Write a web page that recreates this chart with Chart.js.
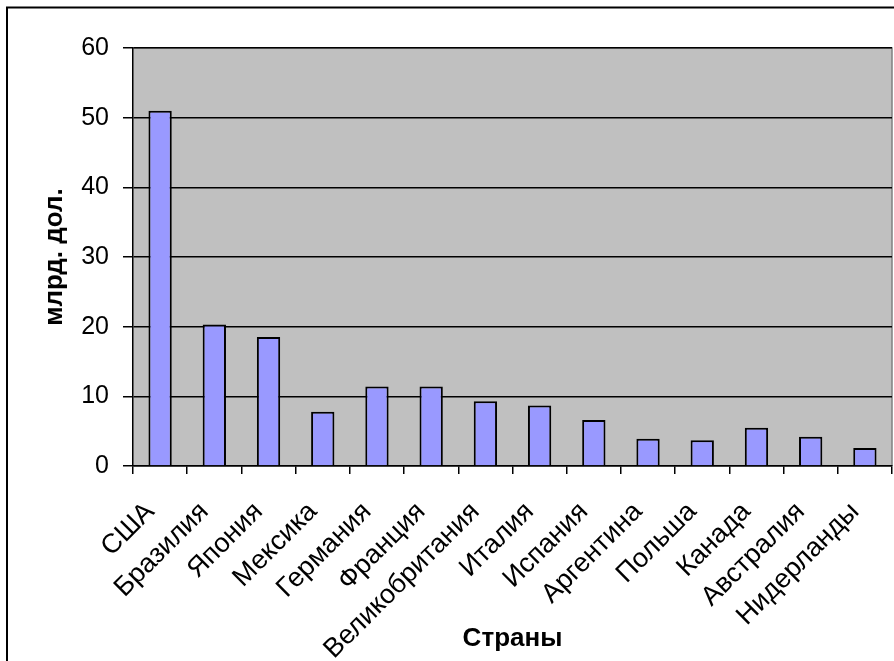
<!DOCTYPE html>
<html>
<head>
<meta charset="utf-8">
<script src="https://cdn.jsdelivr.net/npm/chart.js@4"></script>
<style>
  html, body { margin: 0; padding: 0; background: #fff; }
  #wrap { width: 894px; height: 661px; }
</style>
</head>
<body>
<div id="wrap"><canvas id="grafik" width="894" height="661"></canvas></div>
<script>
var strany = ["США", "Бразилия", "Япония", "Мексика", "Германия", "Франция",
  "Великобритания", "Италия", "Испания", "Аргентина", "Польша", "Канада",
  "Австралия", "Нидерланды"];
var znachenia = [51.0, 20.3, 18.5, 7.8, 11.4, 11.4, 9.3, 8.7, 6.6, 3.9, 3.7, 5.5, 4.2, 2.6];
var yTiki = [0, 10, 20, 30, 40, 50, 60];

// серый фон области построения и рамка диаграммы
var fonPlugin = {
  id: "fon",
  beforeDraw: function (chart) {
    var c = chart.ctx, a = chart.chartArea;
    c.save();
    c.fillStyle = "#fff";
    c.fillRect(0, 0, chart.width, chart.height);
    c.fillStyle = "#C0C0C0";
    c.fillRect(a.left, a.top, a.right - a.left, a.bottom - a.top);
    c.strokeStyle = "#808080";
    c.lineWidth = 1.5;
    c.beginPath();
    c.moveTo(a.left, a.top);
    c.lineTo(a.right, a.top);
    c.lineTo(a.right, a.bottom);
    c.stroke();
    c.strokeStyle = "#000";
    c.lineWidth = 2;
    c.beginPath();
    c.moveTo(7, chart.height);
    c.lineTo(7, 7.5);
    c.lineTo(chart.width, 7.5);
    c.stroke();
    c.restore();
  }
};

document.addEventListener("DOMContentLoaded", function () {
  var ctx = document.getElementById("grafik").getContext("2d");
  new Chart(ctx, {
    type: "bar",
    data: {
      labels: strany,
      datasets: [
        {
          label: "млрд. дол.",
          data: znachenia,
          backgroundColor: "#9999FF",
          borderColor: "#000",
          borderWidth: 2,
          categoryPercentage: 1,
          barPercentage: 0.43,
        },
      ],
    },
    options: {
      responsive: false,
      animation: false,
      devicePixelRatio: 1,
      layout: { padding: { top: 48, right: 2, left: 0, bottom: 0 } },
      plugins: { legend: { display: false }, tooltip: { enabled: false } },
      scales: {
        x: {
          grid: { offset: true, drawOnChartArea: false, color: "#000", tickLength: 8, lineWidth: 1.5 },
          border: { color: "#000", width: 1.5 },
          ticks: {
            autoSkip: false,
            maxRotation: 45,
            minRotation: 45,
            color: "#000",
            padding: 22,
            labelOffset: -10,
            font: { family: "'Liberation Sans', Arial", size: 27 },
          },
          title: {
            display: true,
            text: "Страны",
            color: "#000",
            padding: { top: 0, bottom: 7 },
            font: { family: "'Liberation Sans', Arial", size: 26, weight: "bold" },
          },
          afterFit: function (s) {
            s.height = 195;
            s.paddingLeft = 0;
            s.paddingRight = 0;
          },
        },
        y: {
          min: 0,
          max: 60,
          afterBuildTicks: function (s) {
            s.ticks = yTiki.map(function (v) { return { value: v }; });
          },
          grid: { color: "#000", tickLength: 10, lineWidth: 1.5 },
          border: { color: "#000", width: 1.5 },
          ticks: {
            color: "#000",
            padding: 14,
            font: { family: "'Liberation Sans', Arial", size: 25 },
          },
          title: {
            display: true,
            text: "млрд. дол.",
            color: "#000",
            padding: { top: 39, bottom: 0 },
            font: { family: "'Liberation Sans', Arial", size: 26, weight: "bold" },
          },
          afterFit: function (s) {
            s.width = 133;
            s.paddingTop = 0;
            s.paddingBottom = 0;
          },
        },
      },
    },
    plugins: [fonPlugin],
  });
});
</script>
</body>
</html>
